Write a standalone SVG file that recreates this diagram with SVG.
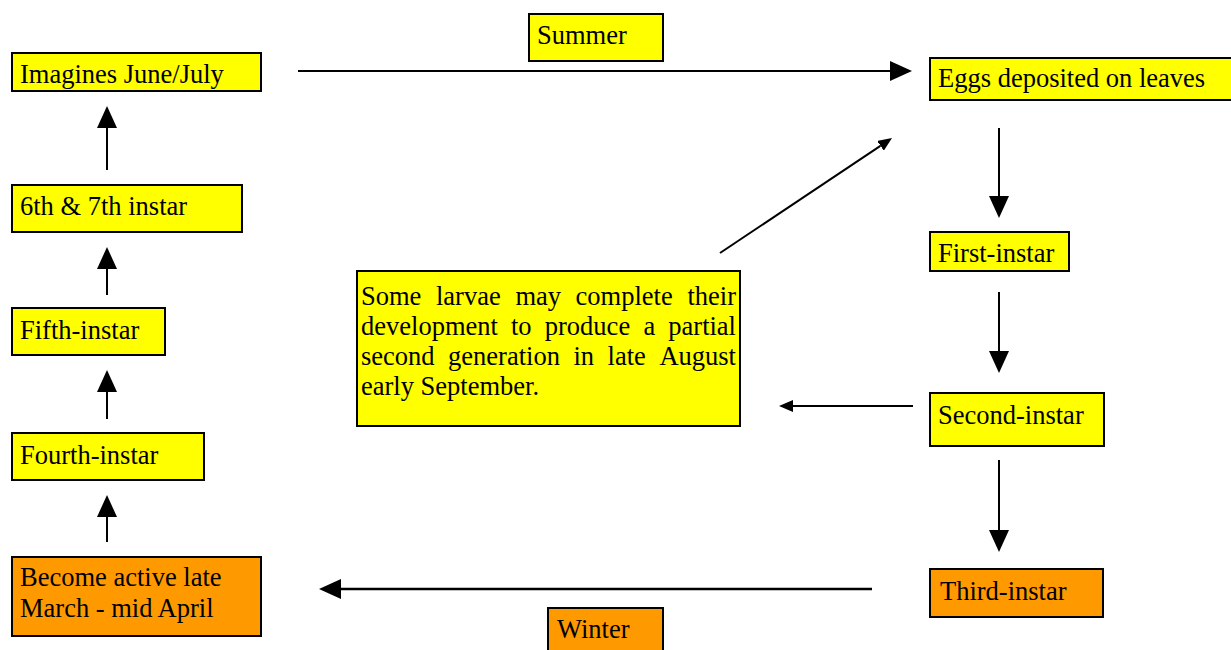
<svg xmlns="http://www.w3.org/2000/svg" width="1231" height="650" viewBox="0 0 1231 650">
<defs>
<style>
.y{fill:#ffff00;stroke:#000;stroke-width:2}
.o{fill:#ff9900;stroke:#000;stroke-width:2}
text{font-family:"Liberation Serif","Times New Roman",serif;font-size:26.5px;fill:#000}
.c line{stroke:#000;stroke-width:2}
</style>
<marker id="big" markerUnits="userSpaceOnUse" markerWidth="22" markerHeight="20" refX="0" refY="10" orient="auto"><path d="M0,0 L22,10 L0,20 z" fill="#000"/></marker>
<marker id="sm" markerUnits="userSpaceOnUse" markerWidth="14" markerHeight="12" refX="0" refY="6" orient="auto"><path d="M0,0 L14,6 L0,12 z" fill="#000"/></marker>
</defs>
<rect width="1231" height="650" fill="#fff"/>
<g id="imagines"><rect class="y" x="12" y="53" width="249" height="38"/><text x="20" y="83">Imagines June/July</text></g>
<g id="instar67"><rect class="y" x="12" y="185" width="230" height="47"/><text x="20" y="215">6th &amp; 7th instar</text></g>
<g id="fifth"><rect class="y" x="12" y="308" width="153" height="47"/><text x="20" y="339">Fifth-instar</text></g>
<g id="fourth"><rect class="y" x="12" y="433" width="192" height="47"/><text x="20" y="464">Fourth-instar</text></g>
<g id="active"><rect class="o" x="12" y="557" width="249" height="79"/><text x="20" y="586">Become active late</text><text x="20" y="617">March - mid April</text></g>
<g id="summer"><rect class="y" x="529" y="14" width="134" height="47"/><text x="537" y="44">Summer</text></g>
<g id="winter"><rect class="o" x="548" y="608" width="115" height="50"/><text x="557" y="638">Winter</text></g>
<g id="eggs"><rect class="y" x="930" y="58" width="310" height="42"/><text x="938" y="87">Eggs deposited on leaves</text></g>
<g id="first"><rect class="y" x="930" y="232" width="139" height="39"/><text x="938" y="262">First-instar</text></g>
<g id="second"><rect class="y" x="930" y="393" width="174" height="53"/><text x="938" y="424">Second-instar</text></g>
<g id="third"><rect class="o" x="930" y="569" width="173" height="48"/><text x="940" y="600">Third-instar</text></g>
<g id="note"><rect class="y" x="357" y="271" width="383" height="155"/>
<text y="305"><tspan x="361">Some</tspan><tspan x="436">larvae</tspan><tspan x="515.4">may</tspan><tspan x="575.6">complete</tspan><tspan x="687.4">their</tspan></text>
<text y="335"><tspan x="361">development</tspan><tspan x="511">to</tspan><tspan x="544.8">produce</tspan><tspan x="643.4">a</tspan><tspan x="668.3">partial</tspan></text>
<text y="365"><tspan x="361">second</tspan><tspan x="448.1">generation</tspan><tspan x="573.5">in</tspan><tspan x="607.6">late</tspan><tspan x="659.4">August</tspan></text>
<text x="361" y="395">early September.</text></g>
<g id="connectors" class="c">
<line x1="107" y1="170" x2="107" y2="128" marker-end="url(#big)"/>
<line x1="107" y1="295" x2="107" y2="269" marker-end="url(#big)"/>
<line x1="107" y1="419" x2="107" y2="392" marker-end="url(#big)"/>
<line x1="107" y1="542" x2="107" y2="517" marker-end="url(#big)"/>
<line x1="298" y1="71" x2="890" y2="71" marker-end="url(#big)"/>
<line x1="999" y1="128" x2="999" y2="196" marker-end="url(#big)"/>
<line x1="999" y1="292" x2="999" y2="351" marker-end="url(#big)"/>
<line x1="999" y1="460" x2="999" y2="530" marker-end="url(#big)"/>
<line x1="872" y1="589" x2="341" y2="589" marker-end="url(#big)" style="stroke-width:2.5"/>
<line x1="913" y1="406" x2="793" y2="406" marker-end="url(#sm)"/>
<line x1="720" y1="253" x2="880.4" y2="145.8" marker-end="url(#sm)"/>
</g>
</svg>
